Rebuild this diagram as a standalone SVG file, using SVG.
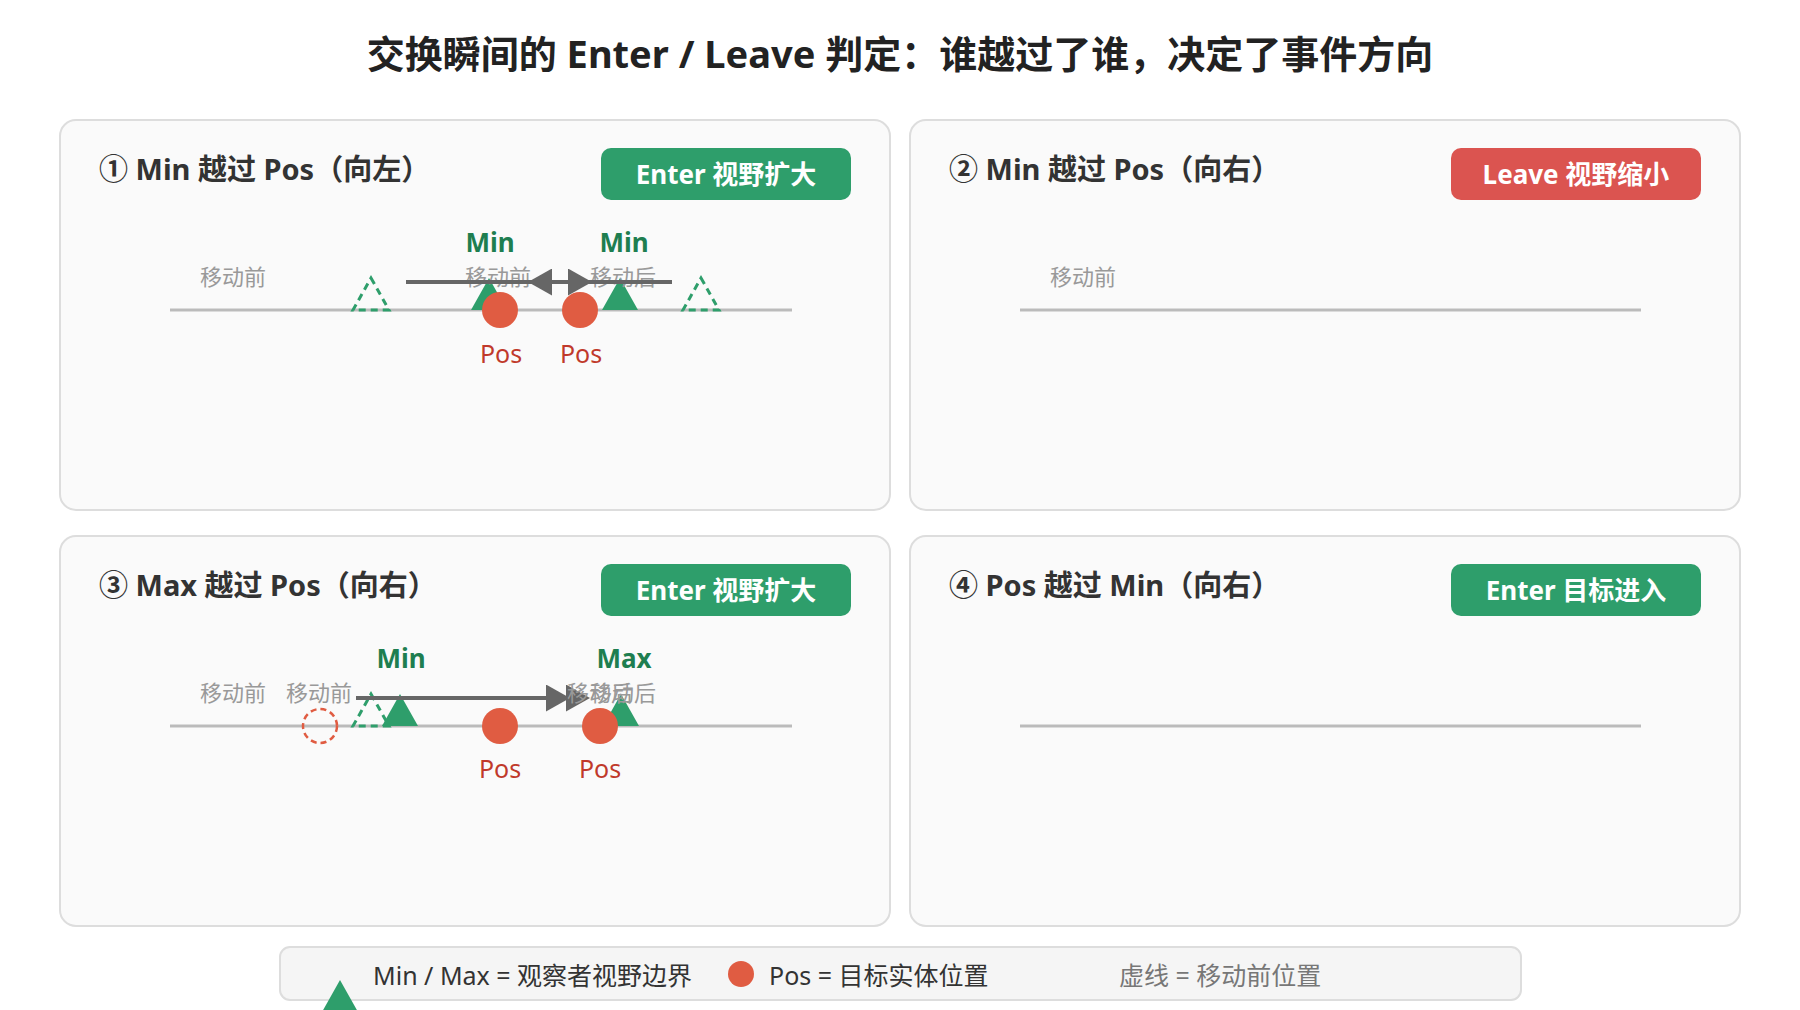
<svg xmlns="http://www.w3.org/2000/svg" width="1800" height="1010" viewBox="0 0 1800 1010">
<style>
text{font-family:'Noto Sans','Noto Sans CJK SC',sans-serif}
.title{font-size:38px;font-weight:700;fill:#222}
.ptitle{font-size:29px;font-weight:700;fill:#333}
.panel{fill:#fafafa;stroke:#dddddd;stroke-width:2}
.badge-g{fill:#2e9e6b}
.badge-r{fill:#db5450}
.btext{font-size:26px;font-weight:700;fill:#fff;text-anchor:middle}
.axis{stroke:#bbbbbb;stroke-width:3}
.tri{fill:#2e9e6b}
.tri-d{fill:none;stroke:#2e9e6b;stroke-width:3;stroke-dasharray:7 5}
.pos{fill:#e05c42}
.pos-d{fill:none;stroke:#e05c42;stroke-width:2.5;stroke-dasharray:6 4}
.lbl-min{font-size:26px;font-weight:700;fill:#1e7e50;text-anchor:middle}
.lbl-pos{font-size:25px;fill:#c0392b;text-anchor:middle}
.lbl-g{font-size:22px;fill:#999;text-anchor:middle}
.arrow{stroke:#666;stroke-width:4;fill:none;marker-end:url(#ah)}
.legend{fill:#f5f5f5;stroke:#dddddd;stroke-width:2}
.ltext{font-size:25px;fill:#333}
.ltext2{font-size:25px;fill:#777}
</style>
<defs>
<marker id="ah" markerUnits="userSpaceOnUse" markerWidth="24" markerHeight="27" refX="14" refY="13.5" orient="auto">
<path d="M0,0 L24,13.5 L0,27 Z" fill="#666"/>
</marker>
</defs>
<rect width="1800" height="1010" fill="#ffffff"/>
<text class="title" x="900" y="68" text-anchor="middle">交换瞬间的 Enter / Leave 判定：谁越过了谁，决定了事件方向</text>

<g id="panel1">
<rect class="panel" x="60" y="120" width="830" height="390" rx="16"/>
<text class="ptitle" x="99" y="180">① Min 越过 Pos（向左）</text>
<rect class="badge-g" x="601" y="148" width="250" height="52" rx="10"/>
<text class="btext" x="726" y="184">Enter 视野扩大</text>
<line class="axis" x1="170" y1="310" x2="792" y2="310"/>
<polygon class="tri-d" points="371,278 389,310 353,310"/>
<polygon class="tri-d" points="701,278 719,310 683,310"/>
<polygon class="tri" points="489,278 507,310 471,310"/>
<polygon class="tri" points="620,278 638,310 602,310"/>
<circle class="pos" cx="500" cy="310" r="18"/>
<circle class="pos" cx="580" cy="310" r="18"/>
<text class="lbl-min" x="490" y="252">Min</text>
<text class="lbl-min" x="624" y="252">Min</text>
<text class="lbl-g" x="233" y="285">移动前</text>
<text class="lbl-g" x="498" y="285">移动前</text>
<text class="lbl-g" x="623" y="285">移动后</text>
<text class="lbl-pos" x="501" y="363">Pos</text>
<text class="lbl-pos" x="581" y="363">Pos</text>
</g>

<g id="panel2">
<rect class="panel" x="910" y="120" width="830" height="390" rx="16"/>
<text class="ptitle" x="949" y="180">② Min 越过 Pos（向右）</text>
<rect class="badge-r" x="1451" y="148" width="250" height="52" rx="10"/>
<text class="btext" x="1576" y="184">Leave 视野缩小</text>
<line class="axis" x1="1020" y1="310" x2="1641" y2="310"/>
<text class="lbl-g" x="1083" y="285">移动前</text>
</g>

<g id="panel3">
<rect class="panel" x="60" y="536" width="830" height="390" rx="16"/>
<text class="ptitle" x="99" y="596">③ Max 越过 Pos（向右）</text>
<rect class="badge-g" x="601" y="564" width="250" height="52" rx="10"/>
<text class="btext" x="726" y="600">Enter 视野扩大</text>
<line class="axis" x1="170" y1="726" x2="792" y2="726"/>
<circle class="pos-d" cx="320" cy="726" r="17"/>
<polygon class="tri-d" points="371,694 389,726 353,726"/>
<polygon class="tri" points="400,694 418,726 382,726"/>
<polygon class="tri" points="621,694 639,726 603,726"/>
<circle class="pos" cx="500" cy="726" r="18"/>
<circle class="pos" cx="600" cy="726" r="18"/>
<text class="lbl-min" x="401" y="668">Min</text>
<text class="lbl-min" x="624" y="668">Max</text>
<text class="lbl-g" x="233" y="701">移动前</text>
<text class="lbl-g" x="319" y="701">移动前</text>
<text class="lbl-pos" x="500" y="778">Pos</text>
<text class="lbl-pos" x="600" y="778">Pos</text>
</g>

<g id="panel4">
<rect class="panel" x="910" y="536" width="830" height="390" rx="16"/>
<text class="ptitle" x="949" y="596">④ Pos 越过 Min（向右）</text>
<rect class="badge-g" x="1451" y="564" width="250" height="52" rx="10"/>
<text class="btext" x="1576" y="600">Enter 目标进入</text>
<line class="axis" x1="1020" y1="726" x2="1641" y2="726"/>
</g>

<g id="connectors">
<line class="arrow" x1="672" y1="282" x2="538" y2="282"/>
<line class="arrow" x1="406" y1="282" x2="582" y2="282"/>
<line class="arrow" x1="356" y1="698" x2="560" y2="698"/>
<line class="arrow" x1="400" y1="698" x2="580" y2="698"/>
</g>

<g id="panel3-labels">
<text class="lbl-g" x="600" y="701">移动后</text>
<text class="lbl-g" x="623" y="701">移动后</text>
</g>

<g id="legend">
<rect class="legend" x="280" y="947" width="1241" height="53" rx="10"/>
<polygon class="tri" points="340,980 358,1012 322,1012"/>
<text class="ltext" x="373" y="985">Min / Max = 观察者视野边界</text>
<circle class="pos" cx="741" cy="974" r="13"/>
<text class="ltext" x="769" y="985">Pos = 目标实体位置</text>
<text class="ltext2" x="1119" y="985">虚线 = 移动前位置</text>
</g>
</svg>
